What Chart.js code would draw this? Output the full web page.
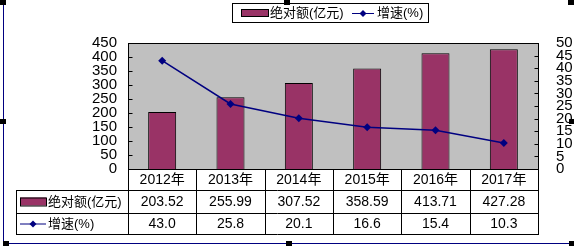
<!DOCTYPE html>
<html>
<head>
<meta charset="utf-8">
<script src="https://cdn.jsdelivr.net/npm/chart.js@4"></script>
<style>
  body { margin: 0; background: #fff; }
  canvas { display: block; }
</style>
</head>
<body>
<canvas id="growthChart" width="574" height="246"></canvas>
<script>
// Data
const categories = ['2012年', '2013年', '2014年', '2015年', '2016年', '2017年'];
const amounts = [203.52, 255.99, 307.52, 358.59, 413.71, 427.28];
const growth = [43.0, 25.8, 20.1, 16.6, 15.4, 10.3];
const amountLabel = '绝对额(亿元)';
const growthLabel = '增速(%)';

const FONT = '"Liberation Sans", Arial, "Noto Sans CJK SC", sans-serif';
const BAR_COLOR = '#993366';
const LINE_COLOR = '#000080';

function diamond(ctx, x, y, r) {
    ctx.beginPath();
    ctx.moveTo(x, y - r);
    ctx.lineTo(x + r, y);
    ctx.lineTo(x, y + r);
    ctx.lineTo(x - r, y);
    ctx.closePath();
    ctx.fill();
}

// gray plot background, border and inward tick marks
const plotBackground = {
    id: 'plotBackground',
    beforeDraw(chart) {
        const { ctx, chartArea: a } = chart;
        ctx.save();
        ctx.fillStyle = '#c0c0c0';
        ctx.fillRect(a.left, a.top, a.right - a.left, a.bottom - a.top);
        ctx.restore();
    },
    afterDatasetsDraw(chart) {
        const { ctx, chartArea: a } = chart;
        const left = Math.round(a.left) + 0.5;
        const right = Math.round(a.right) + 0.5;
        ctx.save();
        ctx.strokeStyle = '#000';
        ctx.lineWidth = 1;
        ctx.strokeRect(left, Math.round(a.top) + 0.5,
            Math.round(a.right - a.left), Math.round(a.bottom - a.top));
        ctx.beginPath();
        chart.scales.y.ticks.forEach(t => {
            const ty = Math.round(chart.scales.y.getPixelForValue(t.value)) + 0.5;
            ctx.moveTo(left, ty);
            ctx.lineTo(left + 4, ty);
        });
        chart.scales.y1.ticks.forEach(t => {
            const ty = Math.round(chart.scales.y1.getPixelForValue(t.value)) + 0.5;
            ctx.moveTo(right, ty);
            ctx.lineTo(right - 4, ty);
        });
        ctx.stroke();
        ctx.restore();
    }
};

// data table under the plot, legend box, frame
const dataTable = {
    id: 'dataTable',
    afterDraw(chart) {
        const { ctx, chartArea: a } = chart;
        const x = chart.scales.x;
        const top = Math.round(a.bottom);
        const rows = [top, top + 21, top + 44, top + 65];
        const tableLeft = 16;
        const step = (a.right - a.left) / categories.length;

        ctx.save();
        ctx.strokeStyle = '#000';
        ctx.lineWidth = 1;
        ctx.beginPath();
        for (let i = 0; i <= categories.length; i++) {
            const bx = Math.round(a.left + i * step) + 0.5;
            ctx.moveTo(bx, rows[0]);
            ctx.lineTo(bx, rows[3]);
        }
        for (let r = 1; r < 4; r++) {
            ctx.moveTo(tableLeft, rows[r] + 0.5);
            ctx.lineTo(Math.round(a.right) + 1, rows[r] + 0.5);
        }
        ctx.moveTo(tableLeft + 0.5, rows[1]);
        ctx.lineTo(tableLeft + 0.5, rows[3]);
        ctx.stroke();

        ctx.fillStyle = '#000';
        ctx.font = '14px ' + FONT;
        ctx.textAlign = 'center';
        ctx.textBaseline = 'middle';
        categories.forEach((c, i) => {
            const cx = x.getPixelForValue(i);
            ctx.fillText(c, cx, (rows[0] + rows[1]) / 2 + 1);
            ctx.fillText(amounts[i].toFixed(2), cx, (rows[1] + rows[2]) / 2 + 1);
            ctx.fillText(growth[i].toFixed(1), cx, (rows[2] + rows[3]) / 2 + 1);
        });

        // series keys in the table
        const y1 = (rows[1] + rows[2]) / 2;
        const y2 = (rows[2] + rows[3]) / 2;
        ctx.fillStyle = BAR_COLOR;
        ctx.fillRect(20, y1 - 4, 26, 8);
        ctx.strokeRect(20.5, y1 - 3.5, 26, 8);
        ctx.strokeStyle = LINE_COLOR;
        ctx.beginPath();
        ctx.moveTo(20, y2 + 0.5);
        ctx.lineTo(46, y2 + 0.5);
        ctx.stroke();
        ctx.fillStyle = LINE_COLOR;
        diamond(ctx, 33, y2 + 0.5, 3.5);
        ctx.fillStyle = '#000';
        ctx.textAlign = 'left';
        ctx.font = '13px ' + FONT;
        ctx.fillText(amountLabel, 48, y1 + 1);
        ctx.fillText(growthLabel, 48, y2 + 1);

        // legend box at top
        ctx.fillStyle = '#fff';
        ctx.fillRect(232, 3, 196, 19);
        ctx.strokeStyle = '#000';
        ctx.strokeRect(232.5, 3.5, 196, 19);
        ctx.fillStyle = BAR_COLOR;
        ctx.fillRect(241, 9, 27, 7);
        ctx.strokeRect(241.5, 9.5, 27, 7);
        ctx.fillStyle = '#000';
        ctx.fillText(amountLabel, 270, 13.5);
        ctx.strokeStyle = LINE_COLOR;
        ctx.beginPath();
        ctx.moveTo(352, 13.5);
        ctx.lineTo(374, 13.5);
        ctx.stroke();
        ctx.fillStyle = LINE_COLOR;
        diamond(ctx, 363, 13.5, 3.5);
        ctx.fillStyle = '#000';
        ctx.fillText(growthLabel, 377, 13.5);

        // outer frame and selection handles
        ctx.beginPath();
        ctx.moveTo(3.5, 0);
        ctx.lineTo(3.5, 244);
        ctx.moveTo(3, 243.5);
        ctx.lineTo(574, 243.5);
        ctx.stroke();
        [[0, 0], [284, 0], [568, 0], [0, 119], [569, 119], [3, 241], [286, 241], [569, 241]]
            .forEach(([hx, hy]) => ctx.fillRect(hx, hy, 6, 5));
        ctx.restore();
    }
};

const config = {
    data: {
        labels: categories,
        datasets: [{
            type: 'line',
            label: growthLabel,
            data: growth,
            yAxisID: 'y1',
            borderColor: LINE_COLOR,
            backgroundColor: LINE_COLOR,
            borderWidth: 1.5,
            pointStyle: 'rectRot',
            pointRadius: 4,
            pointBorderWidth: 0,
            order: 0
        }, {
            type: 'bar',
            label: amountLabel,
            data: amounts,
            yAxisID: 'y',
            backgroundColor: BAR_COLOR,
            borderColor: '#000',
            borderWidth: 1,
            barPercentage: 0.41,
            categoryPercentage: 1,
            order: 1
        }]
    },
    options: {
        responsive: false,
        animation: false,
        devicePixelRatio: 1,
        layout: { padding: { top: 43, left: 0, right: 0, bottom: 0 } },
        plugins: {
            legend: { display: false },
            tooltip: { enabled: false }
        },
        scales: {
            x: {
                offset: true,
                grid: { display: false },
                border: { display: false },
                ticks: { display: false },
                afterFit: s => { s.height = 77; }
            },
            y: {
                position: 'left',
                min: 0,
                max: 450,
                ticks: { stepSize: 50, autoSkip: false, color: '#000', padding: 3, font: { size: 15, family: FONT, lineHeight: 1 } },
                grid: { display: false },
                border: { display: false },
                afterFit: s => { s.width = 128; }
            },
            y1: {
                position: 'right',
                min: 0,
                max: 50,
                ticks: { stepSize: 5, autoSkip: false, color: '#000', padding: 10, font: { size: 15, family: FONT, lineHeight: 1 } },
                grid: { display: false },
                border: { display: false },
                afterFit: s => { s.width = 36; }
            }
        }
    },
    plugins: [plotBackground, dataTable]
};

const ctx = document.getElementById('growthChart').getContext('2d');
new Chart(ctx, config);
</script>
</body>
</html>
